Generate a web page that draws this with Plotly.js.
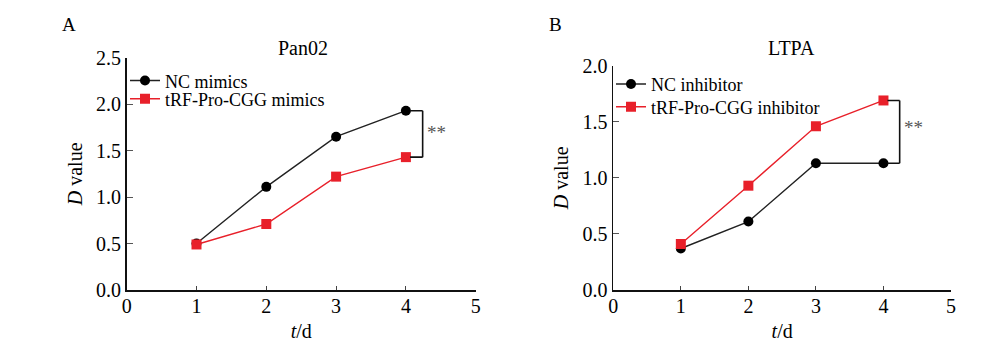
<!DOCTYPE html>
<html>
<head>
<meta charset="utf-8">
<script src="https://cdn.plot.ly/plotly-3.0.1.min.js"></script>
<style>html,body{margin:0;padding:0;background:#fff;}#chart{width:1000px;height:353px;}</style>
</head>
<body>
<div id="chart"></div>
<script>
// ---- Data ----
const days = [1, 2, 3, 4];
const xTicks = [0, 1, 2, 3, 4, 5];

const panelATitle = "Pan02";
const ncMimicsName = "NC mimics";
const ncMimics = [0.50, 1.11, 1.65, 1.93];
const trfMimicsName = "tRF-Pro-CGG mimics";
const trfMimics = [0.49, 0.71, 1.22, 1.43];
const yTicksA = [0, 0.5, 1.0, 1.5, 2.0, 2.5];

const panelBTitle = "LTPA";
const ncInhName = "NC inhibitor";
const ncInh = [0.37, 0.61, 1.13, 1.13];
const trfInhName = "tRF-Pro-CGG inhibitor";
const trfInh = [0.41, 0.93, 1.46, 1.69];
const yTicksB = [0, 0.5, 1.0, 1.5, 2.0];

// ---- Style ----
const FONT = "'Liberation Serif', 'Times New Roman', Times, serif";
const BLACK = "#000000";
const RED = "#e8202a";
const LINE_W = 1.4;
const TICK_SIZE = 20;
const LEG_SIZE = 18;

function trace(x, y, name, color, symbol, xa, ya, leg) {
  return {
    x: x, y: y, name: name, type: "scatter", mode: "lines+markers",
    xaxis: xa, yaxis: ya, legend: leg,
    line: {color: color === RED ? RED : "#222222", width: LINE_W},
    marker: {color: color, symbol: symbol, size: 10, line: {width: 0}},
    cliponaxis: false
  };
}

const data = [
  trace(days, ncMimics, ncMimicsName, BLACK, "circle", "x", "y", "legend"),
  trace(days, trfMimics, trfMimicsName, RED, "square", "x", "y", "legend2"),
  trace(days, ncInh, ncInhName, BLACK, "circle", "x2", "y2", "legend3"),
  trace(days, trfInh, trfInhName, RED, "square", "x2", "y2", "legend4")
];

function xAxis(domain, anchor) {
  return {
    domain: domain, anchor: anchor, range: [0, 5],
    tickvals: xTicks, ticktext: xTicks.map(String),
    showline: true, linecolor: "#111", linewidth: 1.8,
    ticks: "inside", ticklen: 4, tickwidth: 1, tickcolor: "#444",
    ticklabelstandoff: -3,
    showgrid: false, zeroline: false,
    tickfont: {family: FONT, size: TICK_SIZE, color: BLACK},
    title: {text: "<i>t</i>/d", font: {family: FONT, size: TICK_SIZE, color: BLACK}, standoff: 8}
  };
}
function yAxis(domain, anchor, range, ticks) {
  return {
    domain: domain, anchor: anchor, range: range,
    tickvals: ticks, ticktext: ticks.map(v => v.toFixed(1)),
    showline: true, linecolor: "#111", linewidth: 1.8,
    ticks: "inside", ticklen: 6, tickwidth: 1, tickcolor: "#555",
    showgrid: false, zeroline: false,
    tickfont: {family: FONT, size: TICK_SIZE, color: BLACK},
    title: {text: "<i>D</i> value", font: {family: FONT, size: TICK_SIZE, color: BLACK}, standoff: 8}
  };
}

function legendAt(xp, yp) {
  return {x: xp, y: yp, xref: "paper", yref: "paper", xanchor: "left", yanchor: "middle",
    bgcolor: "rgba(0,0,0,0)", font: {family: FONT, size: LEG_SIZE, color: BLACK}, itemwidth: 30};
}

const bracketDx = 0.24;
function bracket(xa, ya, yTop, yBot) {
  const x0 = days[days.length - 1] + 0.06, x1 = days[days.length - 1] + bracketDx;
  const s = {type: "line", xref: xa, yref: ya, line: {color: "#111", width: 1.6}};
  return [
    Object.assign({}, s, {x0: x0, x1: x1, y0: yTop, y1: yTop}),
    Object.assign({}, s, {x0: x1, x1: x1, y0: yTop, y1: yBot}),
    Object.assign({}, s, {x0: x0, x1: x1, y0: yBot, y1: yBot})
  ];
}
const lastA1 = ncMimics[3], lastA2 = trfMimics[3];
const lastB1 = trfInh[3], lastB2 = ncInh[3];

const layout = {
  width: 1000, height: 353,
  margin: {l: 0, r: 0, t: 0, b: 0},
  paper_bgcolor: "#ffffff", plot_bgcolor: "#ffffff",
  font: {family: FONT, size: TICK_SIZE, color: BLACK},
  showlegend: true,
  xaxis: xAxis([0.1267, 0.4757], "y"),
  yaxis: yAxis([0.1785, 0.8365], "x", [0, 2.5], yTicksA),
  xaxis2: xAxis([0.6133, 0.951], "y2"),
  yaxis2: yAxis([0.1785, 0.8139], "x2", [0, 2.0], yTicksB),
  legend: legendAt(0.125, 0.771),
  legend2: legendAt(0.125, 0.7195),
  legend3: legendAt(0.611, 0.7614),
  legend4: legendAt(0.611, 0.6969),
  shapes: [].concat(bracket("x", "y", lastA1, lastA2), bracket("x2", "y2", lastB1, lastB2)),
  annotations: [
    {text: "A", xref: "paper", yref: "paper", x: 0.069, y: 0.93, showarrow: false, xanchor: "center", yanchor: "middle", font: {family: FONT, size: 19}},
    {text: "B", xref: "paper", yref: "paper", x: 0.555, y: 0.93, showarrow: false, xanchor: "center", yanchor: "middle", font: {family: FONT, size: 19}},
    {text: panelATitle, xref: "paper", yref: "paper", x: 0.303, y: 0.865, showarrow: false, xanchor: "center", yanchor: "middle", font: {family: FONT, size: TICK_SIZE}},
    {text: panelBTitle, xref: "paper", yref: "paper", x: 0.791, y: 0.865, showarrow: false, xanchor: "center", yanchor: "middle", font: {family: FONT, size: TICK_SIZE}},
    {text: "**", xref: "x", yref: "y", x: days[3] + bracketDx + 0.04, y: (lastA1 + lastA2) / 2 + 0.02, showarrow: false, xanchor: "left", yanchor: "middle", font: {family: FONT, size: 19, color: "#555"}},
    {text: "**", xref: "x2", yref: "y2", x: days[3] + bracketDx + 0.04, y: (lastB1 + lastB2) / 2 + 0.04, showarrow: false, xanchor: "left", yanchor: "middle", font: {family: FONT, size: 19, color: "#555"}}
  ]
};

Plotly.newPlot("chart", data, layout, {displayModeBar: false, staticPlot: true});
</script>
</body>
</html>
